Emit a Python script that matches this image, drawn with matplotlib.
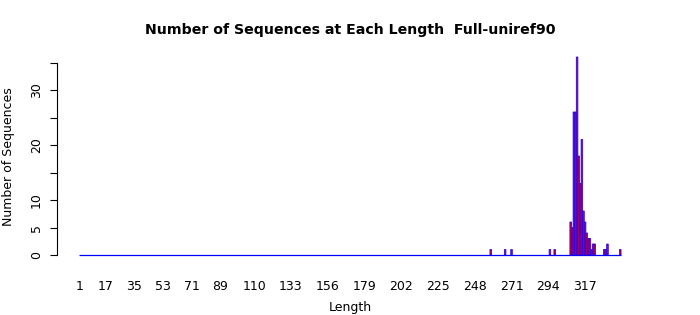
import matplotlib
matplotlib.use("Agg")
import matplotlib.pyplot as plt
import numpy as np

# Data: sequence lengths 1..339, counts (nonzero ones listed)
min_len, max_len = 1, 339
nz_lengths = [258, 267, 271, 295, 298,
              308, 309, 310, 311, 312, 313, 314, 315, 316, 317,
              318, 319, 320, 321, 322, 323,
              329, 330, 331, 339]
nz_counts = [1, 1, 1, 1, 1,
             6, 5, 26, 26, 36, 18, 13, 21, 8, 6,
             4, 3, 3, 1, 2, 2,
             1, 1, 2, 1]
xtick_labels = [1, 17, 35, 53, 71, 89, 110, 133, 156, 179, 202, 225, 248, 271, 294, 317]
ytick_values = [0, 5, 10, 15, 20, 25, 30, 35]
ytick_labels = ["0", "5", "10", "", "20", "", "30", ""]

lengths = np.arange(min_len, max_len + 1)
counts = np.zeros(len(lengths))
for L, c in zip(nz_lengths, nz_counts):
    counts[L - min_len] = c

W, H = 700, 315
fig = plt.figure(figsize=(7.0, 3.15), dpi=100)

px_per_unit = 1.599
x0_px = 79.8  # center of length 1
ax_left_px, ax_right_px = 57, 650
xlo = 1 + (ax_left_px - x0_px) / px_per_unit
xhi = 1 + (ax_right_px - x0_px) / px_per_unit

y0_px = 255
ypx = 5.5
ytop = 37.5
ylo = -0.5
ax_bottom_px = y0_px + (-ylo) * ypx
ax_top_px = y0_px - ytop * ypx

ax = fig.add_axes([ax_left_px / W, 1 - ax_bottom_px / H,
                   (ax_right_px - ax_left_px) / W,
                   (ax_bottom_px - ax_top_px) / H])
ax.hlines(0, lengths[0] - 0.5, lengths[-1] + 0.5, color="blue",
          linewidth=0.9, zorder=1)
mask = counts > 0
bars = ax.bar(lengths[mask], counts[mask], width=1.0, color="#c00040",
              edgecolor="#2200ee", linewidth=0.55, align="center", zorder=2)
for b in bars:
    b.set_snap(False)
ax.set_xlim(xlo, xhi)
ax.set_ylim(ylo, ytop)

for s in ["top", "right", "bottom"]:
    ax.spines[s].set_visible(False)
ax.spines["left"].set_bounds(0, 35)
ax.spines["left"].set_linewidth(0.8)

ax.set_yticks(ytick_values)
ax.set_yticklabels(ytick_labels, rotation=90, va="center", fontsize=9)
ax.tick_params(axis="y", length=5, width=0.8, pad=5)

ax.set_xticks(xtick_labels)
ax.set_xticklabels([str(v) for v in xtick_labels], fontsize=9)
ax.tick_params(axis="x", length=0, pad=16)

fig.text(350 / W, 1 - 30 / H, "Number of Sequences at Each Length  Full-uniref90",
         ha="center", va="center", fontsize=10.2, fontweight="bold")
fig.text(350 / W, 1 - 308 / H, "Length", ha="center", va="center", fontsize=9)
fig.text(9 / W, 1 - 157 / H, "Number of Sequences", ha="center", va="center",
         rotation=90, fontsize=9)

fig.savefig("out.png", dpi=100)
